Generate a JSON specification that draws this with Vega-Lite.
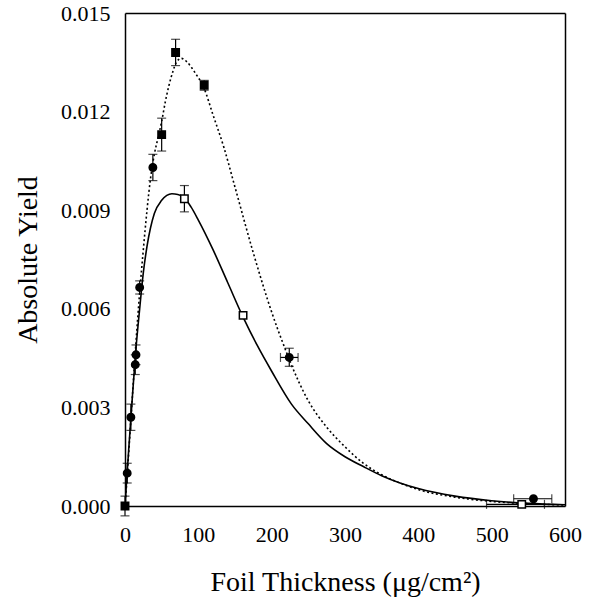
{
  "$schema": "https://vega.github.io/schema/vega-lite/v6.json",
  "width": 440,
  "height": 493,
  "autosize": {"type": "none"},
  "padding": {"left": 125, "top": 13, "right": 29, "bottom": 102},
  "background": "white",
  "config": {
    "view": {"stroke": null},
    "axis": {
      "labelFont": "Liberation Serif",
      "titleFont": "Liberation Serif",
      "labelColor": "black",
      "titleColor": "black",
      "domainColor": "black",
      "tickColor": "black",
      "grid": false,
      "labelFontSize": 22,
      "titleFontSize": 28,
      "titleFontWeight": "normal",
      "domainWidth": 1.5,
      "tickWidth": 1.3
    }
  },
  "datasets": {
    "fitDotted": [
      {"x": 0, "y": 0}, {"x": 2, "y": 0.0006}, {"x": 5, "y": 0.0016}, {"x": 10, "y": 0.0033},
      {"x": 15, "y": 0.005}, {"x": 20, "y": 0.0065}, {"x": 25, "y": 0.0078}, {"x": 30, "y": 0.009},
      {"x": 35, "y": 0.01}, {"x": 40, "y": 0.0107}, {"x": 45, "y": 0.0112}, {"x": 50, "y": 0.0117},
      {"x": 55, "y": 0.0123}, {"x": 60, "y": 0.0128}, {"x": 65, "y": 0.0132}, {"x": 70, "y": 0.0135},
      {"x": 77, "y": 0.01362}, {"x": 85, "y": 0.0135}, {"x": 95, "y": 0.0132}, {"x": 108, "y": 0.0127},
      {"x": 120, "y": 0.0119}, {"x": 135, "y": 0.0109}, {"x": 150, "y": 0.0097}, {"x": 175, "y": 0.0077},
      {"x": 200, "y": 0.0059}, {"x": 218, "y": 0.0048}, {"x": 225, "y": 0.0044}, {"x": 250, "y": 0.0032},
      {"x": 275, "y": 0.0024}, {"x": 300, "y": 0.0018}, {"x": 325, "y": 0.0013}, {"x": 350, "y": 0.00095},
      {"x": 375, "y": 0.0007}, {"x": 400, "y": 0.0005}, {"x": 450, "y": 0.00027}, {"x": 500, "y": 0.00014},
      {"x": 550, "y": 0.00007}, {"x": 600, "y": 0.00003}
    ],
    "fitSolid": [
      {"x": 0, "y": 0}, {"x": 2, "y": 0.0007}, {"x": 5, "y": 0.0017}, {"x": 10, "y": 0.0033},
      {"x": 15, "y": 0.0048}, {"x": 20, "y": 0.006}, {"x": 25, "y": 0.0071}, {"x": 30, "y": 0.0079},
      {"x": 40, "y": 0.0089}, {"x": 50, "y": 0.0093}, {"x": 57, "y": 0.00945}, {"x": 64, "y": 0.0095},
      {"x": 72, "y": 0.00948}, {"x": 80, "y": 0.0094}, {"x": 90, "y": 0.0091}, {"x": 100, "y": 0.0087},
      {"x": 120, "y": 0.0078}, {"x": 140, "y": 0.0068}, {"x": 162, "y": 0.0057}, {"x": 180, "y": 0.0049},
      {"x": 200, "y": 0.0041}, {"x": 227, "y": 0.0031}, {"x": 250, "y": 0.0025}, {"x": 275, "y": 0.0019},
      {"x": 300, "y": 0.0015}, {"x": 325, "y": 0.0012}, {"x": 350, "y": 0.00092}, {"x": 375, "y": 0.0007},
      {"x": 400, "y": 0.00053}, {"x": 450, "y": 0.0003}, {"x": 500, "y": 0.00016}, {"x": 550, "y": 0.00008},
      {"x": 600, "y": 0.00004}
    ],
    "points": [
      {"series": "A", "x": 0, "y": 0.0, "ylo": -0.0003, "yhi": 0.0003, "shape": "square"},
      {"series": "A", "x": 3, "y": 0.001, "ylo": 0.0007, "yhi": 0.0013, "shape": "circle"},
      {"series": "A", "x": 8, "y": 0.0027, "ylo": 0.0023, "yhi": 0.0031, "shape": "circle"},
      {"series": "A", "x": 14, "y": 0.0043, "ylo": 0.004, "yhi": 0.0046, "shape": "circle"},
      {"series": "A", "x": 15, "y": 0.0046, "ylo": 0.0043, "yhi": 0.0049, "shape": "circle"},
      {"series": "A", "x": 20, "y": 0.00665, "ylo": 0.00645, "yhi": 0.00685, "shape": "circle"},
      {"series": "A", "x": 38, "y": 0.0103, "ylo": 0.0099, "yhi": 0.0107, "shape": "circle"},
      {"series": "A", "x": 50, "y": 0.0113, "ylo": 0.0108, "yhi": 0.0118, "shape": "square"},
      {"series": "A", "x": 69, "y": 0.0138, "ylo": 0.0134, "yhi": 0.0142, "shape": "square"},
      {"series": "A", "x": 108, "y": 0.0128, "ylo": 0.01265, "yhi": 0.01295, "shape": "square"},
      {"series": "A", "x": 224, "y": 0.00452, "ylo": 0.00425, "yhi": 0.0048, "xlo": 212, "xhi": 236, "shape": "circle"},
      {"series": "A", "x": 557, "y": 0.00022, "xlo": 530, "xhi": 582, "shape": "circle"},
      {"series": "B", "x": 81, "y": 0.00935, "ylo": 0.00895, "yhi": 0.00975, "shape": "square"},
      {"series": "B", "x": 161, "y": 0.0058, "shape": "square"},
      {"series": "B", "x": 541, "y": 0.00005, "xlo": 493, "xhi": 572, "shape": "square"}
    ]
  },
  "resolve": {"axis": {"x": "independent", "y": "independent"}},
  "layer": [
    {
      "data": {"name": "fitSolid"},
      "mark": {"type": "line", "color": "black", "strokeWidth": 1.6, "clip": true, "interpolate": "monotone"},
      "encoding": {
        "x": {
          "field": "x", "type": "quantitative",
          "scale": {"domain": [0, 600], "nice": false, "zero": false},
          "axis": {
            "orient": "bottom",
            "title": "Foil Thickness (μg/cm²)",
            "values": [0,20,40,60,80,100,120,140,160,180,200,220,240,260,280,300,320,340,360,380,400,420,440,460,480,500,520,540,560,580,600],
            "labelExpr": "datum.value % 100 === 0 ? datum.label : ''",
            "tickSize": 0,
            "labelPadding": 18,
            "titlePadding": 23,
            "labelFlush": false,
            "encode": {"ticks": {"update": {"y2": {"signal": "datum.value % 100 === 0 ? -10 : -5"}}}}
          }
        },
        "y": {
          "field": "y", "type": "quantitative",
          "scale": {"domain": [0, 0.015], "nice": false, "zero": false},
          "axis": {
            "orient": "left",
            "title": "Absolute Yield",
            "format": ".3f",
            "values": [0,0.001,0.002,0.003,0.004,0.005,0.006,0.007,0.008,0.009,0.01,0.011,0.012,0.013,0.014,0.015],
            "labelExpr": "abs(datum.value*1000 - round(datum.value*1000/3)*3) < 0.01 ? datum.label : ''",
            "tickSize": 0,
            "labelPadding": 15,
            "titlePadding": 18,
            "labelFlush": false,
            "encode": {"ticks": {"update": {
              "x": {"signal": "abs(datum.value*1000 - round(datum.value*1000/3)*3) < 0.01 ? -6 : 0"},
              "x2": {"signal": "abs(datum.value*1000 - round(datum.value*1000/3)*3) < 0.01 ? 10 : 5"}
            }}}
          }
        }
      }
    },
    {
      "data": {"name": "fitDotted"},
      "mark": {"type": "line", "color": "black", "strokeWidth": 1.6, "strokeDash": [2, 2.5], "clip": true, "interpolate": "monotone"},
      "encoding": {
        "x": {
          "field": "x", "type": "quantitative",
          "axis": {
            "orient": "top", "title": null, "labels": false,
            "values": [0,20,40,60,80,100,120,140,160,180,200,220,240,260,280,300,320,340,360,380,400,420,440,460,480,500,520,540,560,580,600],
            "tickSize": 0,
            "encode": {"ticks": {"update": {"y2": {"signal": "datum.value % 100 === 0 ? 10 : 5"}}}}
          }
        },
        "y": {
          "field": "y", "type": "quantitative",
          "axis": {
            "orient": "right", "title": null, "labels": false,
            "values": [0,0.001,0.002,0.003,0.004,0.005,0.006,0.007,0.008,0.009,0.01,0.011,0.012,0.013,0.014,0.015],
            "tickSize": 0,
            "encode": {"ticks": {"update": {"x2": {"signal": "abs(datum.value*1000 - round(datum.value*1000/3)*3) < 0.01 ? -12 : -5"}}}}
          }
        }
      }
    },
    {
      "data": {"name": "points"},
      "transform": [{"filter": "isValid(datum.ylo)"}],
      "mark": {"type": "rule", "color": "black", "strokeWidth": 1.2},
      "encoding": {
        "x": {"field": "x", "type": "quantitative", "axis": null},
        "y": {"field": "ylo", "type": "quantitative", "axis": null},
        "y2": {"field": "yhi"}
      }
    },
    {
      "data": {"name": "points"},
      "transform": [{"filter": "isValid(datum.ylo)"}],
      "mark": {"type": "tick", "color": "black", "orient": "horizontal", "size": 9, "thickness": 1.2},
      "encoding": {
        "x": {"field": "x", "type": "quantitative", "axis": null},
        "y": {"field": "ylo", "type": "quantitative", "axis": null}
      }
    },
    {
      "data": {"name": "points"},
      "transform": [{"filter": "isValid(datum.yhi)"}],
      "mark": {"type": "tick", "color": "black", "orient": "horizontal", "size": 9, "thickness": 1.2},
      "encoding": {
        "x": {"field": "x", "type": "quantitative", "axis": null},
        "y": {"field": "yhi", "type": "quantitative", "axis": null}
      }
    },
    {
      "data": {"name": "points"},
      "transform": [{"filter": "isValid(datum.xlo)"}],
      "mark": {"type": "rule", "color": "black", "strokeWidth": 1.2},
      "encoding": {
        "x": {"field": "xlo", "type": "quantitative", "axis": null},
        "x2": {"field": "xhi"},
        "y": {"field": "y", "type": "quantitative", "axis": null}
      }
    },
    {
      "data": {"name": "points"},
      "transform": [{"filter": "isValid(datum.xlo)"}],
      "mark": {"type": "tick", "color": "black", "orient": "vertical", "size": 9, "thickness": 1.2},
      "encoding": {
        "x": {"field": "xlo", "type": "quantitative", "axis": null},
        "y": {"field": "y", "type": "quantitative", "axis": null}
      }
    },
    {
      "data": {"name": "points"},
      "transform": [{"filter": "isValid(datum.xhi)"}],
      "mark": {"type": "tick", "color": "black", "orient": "vertical", "size": 9, "thickness": 1.2},
      "encoding": {
        "x": {"field": "xhi", "type": "quantitative", "axis": null},
        "y": {"field": "y", "type": "quantitative", "axis": null}
      }
    },
    {
      "data": {"name": "points"},
      "mark": {"type": "point", "stroke": "black", "strokeWidth": 1.5, "size": 55, "opacity": 1},
      "encoding": {
        "x": {"field": "x", "type": "quantitative", "axis": null},
        "y": {"field": "y", "type": "quantitative", "axis": null},
        "shape": {"field": "shape", "type": "nominal", "scale": {"domain": ["circle", "square"], "range": ["circle", "square"]}, "legend": null},
        "fill": {"field": "series", "type": "nominal", "scale": {"domain": ["A", "B"], "range": ["black", "white"]}, "legend": null}
      }
    }
  ]
}
